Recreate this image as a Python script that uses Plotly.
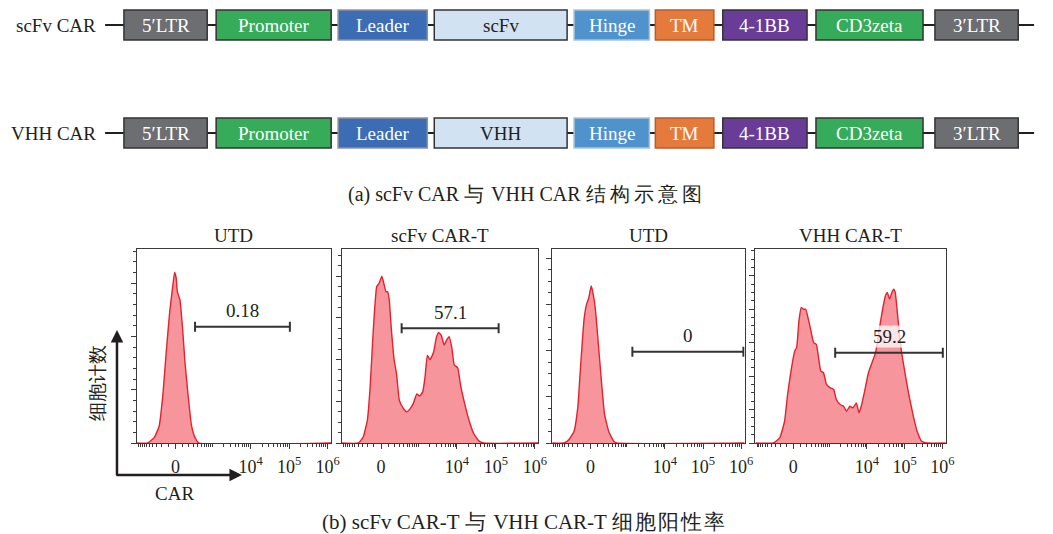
import numpy as np
import plotly.graph_objects as go

W, H = 1053, 534
SERIF = "Liberation Serif"   # CJK glyphs fall back to the system CJK face
INK = "#231f20"
NBSP = "\u00a0"

# ---------------- (a) CAR construct maps ----------------
construct_names = ["scFv CAR", "VHH CAR"]
scfv_car_parts = ["5′LTR", "Promoter", "Leader", "scFv", "Hinge", "TM", "4-1BB", "CD3zeta", "3′LTR"]
vhh_car_parts = ["5′LTR", "Promoter", "Leader", "VHH", "Hinge", "TM", "4-1BB", "CD3zeta", "3′LTR"]
part_lengths = [84, 116, 90, 134, 76, 59, 85, 108, 84]

# ---------------- (b) flow cytometry histograms (display channel vs. events) ----------------
panel_titles = ["UTD", "scFv CAR-T", "UTD", "VHH CAR-T"]
gate_labels = ["0.18", "57.1", "0", "59.2"]

utd_scfv_channel = [-1.0, -0.72, -0.55, -0.42, -0.32, -0.24, -0.15, -0.085, -0.02, 0.02, 0.05,
                    0.085, 0.12, 0.19, 0.25, 0.34, 0.42, 0.51, 0.61, 4.04]
utd_scfv_count = [0, 0, 5, 16, 47, 84, 122, 142, 160, 155, 142, 138, 134, 106, 75, 41, 16, 5, 0, 0]

scfv_cart_channel = [-1.0, -0.58, -0.455, -0.35, -0.28, -0.20, -0.11, -0.05, 0.02, 0.06, 0.13, 0.17,
                     0.21, 0.27, 0.34, 0.40, 0.47, 0.56, 0.66, 0.75, 0.83, 0.92, 0.99, 1.07, 1.13,
                     1.19, 1.26, 1.35, 1.42, 1.48, 1.55, 1.62, 1.69, 1.75, 1.82, 1.88, 1.97, 2.04,
                     2.14, 2.25, 2.38, 2.51, 2.64, 4.04]
scfv_cart_count = [0, 0, 6, 22, 53, 107, 150, 153, 160, 155, 145, 145, 138, 107, 79, 66, 41, 34, 30,
                   33, 38, 47, 45, 49, 63, 84, 80, 87, 101, 106, 103, 94, 99, 102, 91, 75, 72, 56,
                   39, 23, 9, 2, 0, 0]

utd_vhh_channel = [-1.0, -0.69, -0.56, -0.43, -0.33, -0.26, -0.17, -0.11, -0.04, 0.02, 0.06, 0.13,
                   0.20, 0.28, 0.37, 0.48, 0.61, 0.69, 4.04]
utd_vhh_count = [0, 0, 3, 10, 31, 65, 106, 119, 126, 136, 131, 116, 89, 57, 25, 10, 1.5, 0, 0]

vhh_cart_channel = [-1.0, -0.53, -0.36, -0.23, -0.15, -0.06, 0.04, 0.09, 0.15, 0.21, 0.27, 0.33,
                    0.39, 0.45, 0.54, 0.61, 0.67, 0.73, 0.80, 0.88, 0.98, 1.07, 1.14, 1.24, 1.33,
                    1.41, 1.50, 1.58, 1.67, 1.74, 1.80, 1.89, 1.99, 2.10, 2.18, 2.27, 2.35, 2.44,
                    2.49, 2.55, 2.61, 2.66, 2.70, 2.76, 2.85, 2.95, 3.06, 3.17, 3.28, 3.40, 3.53, 4.04]
vhh_cart_count = [0, 0, 3, 13, 29, 43, 55, 57, 73, 81, 80, 80, 75, 69, 60, 59, 51, 43, 42, 35, 33,
                  32, 26, 23, 22, 19, 22, 21, 24, 18, 22, 31, 42, 49, 54, 67, 78, 88, 90, 86, 90,
                  92, 90, 77, 57, 43, 29, 17, 7, 1, 0, 0]

# positive gates: [lower, upper] display channel and bar height in events
gate_channels = [(0.51, 2.97), (0.53, 3.02), (1.10, 4.01), (1.11, 3.96)]
gate_levels = [109, 110, 79, 54]

histograms = [
    (utd_scfv_channel, utd_scfv_count),
    (scfv_cart_channel, scfv_cart_count),
    (utd_vhh_channel, utd_vhh_count),
    (vhh_cart_channel, vhh_cart_count),
]

# y-axis scale per panel: (upper limit, major step, minor step)
count_axes = [(182, 50, 10), (186, 40, 10), (168, 40, 10), (116, 20, 5)]

# ---------------- styling ----------------
PART_FILL = {"5′LTR": "#6d6e71", "Promoter": "#36ab5a", "Leader": "#3c6cb3", "scFv": "#d1e3f2",
             "VHH": "#d1e3f2", "Hinge": "#5092cb", "TM": "#e57a3d", "4-1BB": "#693d97",
             "CD3zeta": "#36ab5a", "3′LTR": "#6d6e71"}
PART_EDGE = {"Leader": "#8a93a3", "Hinge": "#a8c3dc", "TM": "#b75c2c"}
PART_TEXT = {"scFv": INK, "VHH": INK}
part_gaps = [9, 7, 7, 7, 6, 9, 9, 12]
MAP_START, LEAD_IN, LEAD_OUT = 125, 19, 16
BOX_HALF = 0.139

FILL = "rgba(240,80,90,0.6)"
EDGE = "#e3222d"
FRAME = "#3a3a3a"


def px_x(p):
    return p / W


def px_y(p):
    return 1 - p / H


def to_display(v):
    """arcsinh display transform used for the CAR fluorescence axis"""
    return np.arcsinh(np.asarray(v, dtype=float) / 224.0) / np.log(10)


def cjk(text, size, spacing):
    """wrap a run of CJK characters with its own size and tracking"""
    return f'<span style="font-size:{size}px;letter-spacing:{spacing}px">{text}</span>'


fig = go.Figure()
shapes, annotations = [], []

# construct maps on their own axis pair
map_total = sum(part_lengths) + sum(part_gaps)
for row, (name, parts) in enumerate(zip(construct_names, [scfv_car_parts, vhh_car_parts])):
    fig.add_trace(go.Scatter(x=[MAP_START - LEAD_IN, MAP_START + map_total + LEAD_OUT], y=[row, row],
                             mode="lines", line=dict(color=INK, width=2), xaxis="x5", yaxis="y5",
                             hoverinfo="skip", showlegend=False))
    annotations.append(dict(x=MAP_START - LEAD_IN - 7, y=row, xref="x5", yref="y5", text=name,
                            showarrow=False, xanchor="right", yanchor="middle",
                            font=dict(family=SERIF, size=19, color=INK)))
    x = MAP_START
    for i, (part, length) in enumerate(zip(parts, part_lengths)):
        shapes.append(dict(type="rect", xref="x5", yref="y5", x0=x, x1=x + length,
                           y0=row - BOX_HALF, y1=row + BOX_HALF, fillcolor=PART_FILL[part],
                           line=dict(color=PART_EDGE.get(part, "#333333"), width=1.5), layer="above"))
        annotations.append(dict(x=x + length / 2, y=row, xref="x5", yref="y5", text=part,
                                showarrow=False, xanchor="center", yanchor="middle",
                                font=dict(family=SERIF, size=19, color=PART_TEXT.get(part, "#ffffff"))))
        if i < len(part_gaps):
            x += length + part_gaps[i]

caption_a = ("(a) scFv CAR" + NBSP + cjk("与", 20, 2) + NBSP + "VHH CAR" + NBSP
             + cjk("结构示意图", 20, 4))
annotations.append(dict(x=px_x(532), y=px_y(194), xref="paper", yref="paper",
                        text=caption_a, showarrow=False,
                        xanchor="center", yanchor="middle", font=dict(family=SERIF, size=20, color=INK)))

# histogram panels
panel_px = [(138, 334), (345, 543), (557, 751), (762, 954)]
panel_top, panel_bottom = 249, 443
x_range = [-1.0, 4.04]

major_vals = [0, 1e4, 1e5, 1e6]
major_text = ["0", "10<sup>4</sup>", "10<sup>5</sup>", "10<sup>6</sup>"]
minor_vals = (list(range(-1000, 0, 100)) + list(range(100, 1000, 100)) + list(range(1000, 10000, 1000))
              + [k * 1e4 for k in range(2, 10)] + [k * 1e5 for k in range(2, 10)])

layout_axes = {}
for k in range(4):
    n = "" if k == 0 else str(k + 1)
    ch, ct = histograms[k]
    fig.add_trace(go.Scatter(x=ch, y=ct, mode="lines", fill="tozeroy", fillcolor=FILL,
                             line=dict(color=EDGE, width=1.4, shape="spline", smoothing=0.4),
                             xaxis="x" + n, yaxis="y" + n, showlegend=False, hoverinfo="skip"))
    lo, hi = gate_channels[k]
    mid = (lo + hi) / 2
    fig.add_trace(go.Scatter(x=[mid], y=[gate_levels[k]], mode="markers",
                             marker=dict(size=1, color="rgba(0,0,0,0)"),
                             error_x=dict(type="data", symmetric=True, array=[(hi - lo) / 2],
                                          color="#333333", thickness=2, width=5),
                             xaxis="x" + n, yaxis="y" + n, showlegend=False, hoverinfo="skip"))
    annotations.append(dict(x=mid, y=gate_levels[k], xref="x" + n, yref="y" + n, text=gate_labels[k],
                            showarrow=False, xanchor="center", yanchor="middle", yshift=16,
                            bgcolor="rgba(255,255,255,0.75)", borderpad=0,
                            font=dict(family=SERIF, size=19, color=INK)))
    x0, x1 = panel_px[k]
    annotations.append(dict(x=px_x((x0 + x1) / 2), y=px_y(panel_top), xref="paper", yref="paper",
                            text=panel_titles[k], showarrow=False, xanchor="center", yanchor="bottom",
                            yshift=1, font=dict(family=SERIF, size=19, color=INK)))
    ymax, ystep, yminor = count_axes[k]
    layout_axes["xaxis" + n] = dict(
        domain=[px_x(x0), px_x(x1)], range=x_range, anchor="y" + n,
        showline=True, mirror=True, linecolor=FRAME, linewidth=1, showgrid=False, zeroline=False,
        tickmode="array", tickvals=to_display(major_vals).tolist(), ticktext=major_text,
        ticks="outside", ticklen=5, tickwidth=1, tickcolor=FRAME, ticklabelstandoff=2,
        tickfont=dict(family=SERIF, size=18, color=INK),
        minor=dict(tickmode="array", tickvals=to_display(minor_vals).tolist(), ticks="outside",
                   ticklen=3, tickwidth=1, tickcolor=FRAME, showgrid=False))
    layout_axes["yaxis" + n] = dict(
        domain=[px_y(panel_bottom), px_y(panel_top)], range=[0, ymax], anchor="x" + n,
        showline=True, mirror=True, linecolor=FRAME, linewidth=1, showgrid=False, zeroline=False,
        tick0=0, dtick=ystep, ticks="outside", ticklen=5, tickwidth=1, tickcolor=FRAME,
        showticklabels=False,
        minor=dict(tick0=0, dtick=yminor, ticks="outside", ticklen=3, tickwidth=1,
                   tickcolor=FRAME, showgrid=False))

layout_axes["xaxis5"] = dict(domain=[0, 1], range=[0, W], anchor="y5", visible=False, fixedrange=True)
layout_axes["yaxis5"] = dict(domain=[px_y(160), 1], range=[1.25, -0.2315], anchor="x5",
                             visible=False, fixedrange=True)

# axis arrows and labels for the histogram block (tails offset in pixels)
annotations.append(dict(x=px_x(118), y=px_y(330), xref="paper", yref="paper",
                        axref="pixel", ayref="pixel", ax=0, ay=146.5, text="", showarrow=True,
                        arrowhead=2, arrowsize=1, arrowwidth=2.5, arrowcolor=INK))
annotations.append(dict(x=px_x(244), y=px_y(475), xref="paper", yref="paper",
                        axref="pixel", ayref="pixel", ax=-127.2, ay=0, text="", showarrow=True,
                        arrowhead=2, arrowsize=1, arrowwidth=2.5, arrowcolor=INK))
annotations.append(dict(x=px_x(98), y=px_y(383), xref="paper", yref="paper", text="细胞计数",
                        textangle=-90, showarrow=False, xanchor="center", yanchor="middle",
                        font=dict(family=SERIF, size=19, color=INK)))
annotations.append(dict(x=px_x(176), y=px_y(493), xref="paper", yref="paper", text="CAR",
                        showarrow=False, xanchor="center", yanchor="middle",
                        font=dict(family=SERIF, size=19, color=INK)))
caption_b = ("(b) scFv CAR-T" + NBSP + cjk("与", 21, 2) + NBSP + "VHH CAR-T" + NBSP
             + cjk("细胞阳性率", 21, 2))
annotations.append(dict(x=px_x(529), y=px_y(522), xref="paper", yref="paper",
                        text=caption_b, showarrow=False,
                        xanchor="center", yanchor="middle", font=dict(family=SERIF, size=21, color=INK)))

fig.update_layout(width=W, height=H, margin=dict(l=0, r=0, t=0, b=0),
                  paper_bgcolor="white", plot_bgcolor="white",
                  font=dict(family=SERIF, color=INK), shapes=shapes, annotations=annotations,
                  **layout_axes)

fig.write_html("out.html")
